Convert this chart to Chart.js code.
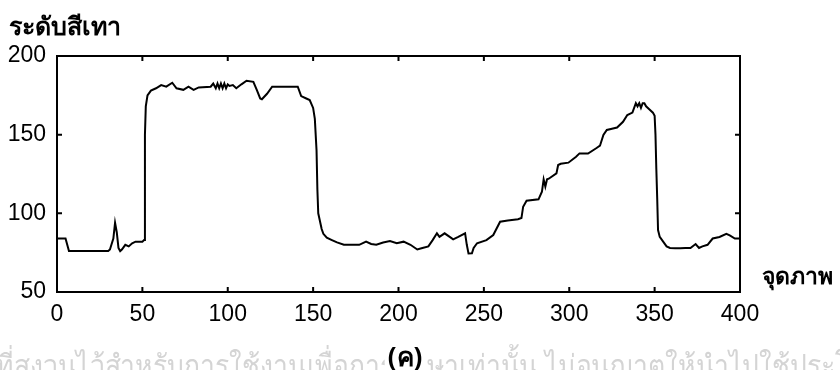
<!DOCTYPE html>
<html>
<head>
<meta charset="utf-8">
<script src="https://cdn.jsdelivr.net/npm/chart.js@4/dist/chart.umd.min.js"></script>
<style>
  html, body { margin: 0; padding: 0; background: #fff; }
  #wrap { width: 840px; height: 370px; position: relative; }
</style>
</head>
<body>
<div id="wrap"><canvas id="profile-chart"></canvas></div>
<script>
// gray level profile along one image row
const pixelIdx = [
    0, 5, 6, 7, 30, 31, 33, 34, 35, 36, 37, 38, 40, 42, 44, 46, 50, 51, 51.5, 52,
    53, 55, 58, 61, 64, 67.5, 70, 74, 77, 80, 83, 90, 91.5, 93, 94, 95, 96, 97, 98, 99,
    100, 101, 103, 105, 108, 111, 115, 117, 119, 120, 123, 126, 141, 143, 146, 148, 150, 151, 152, 152.5,
    153, 155, 156, 158, 161, 164, 168, 172, 177, 181, 184, 187, 191, 195, 199, 203, 207, 211, 214, 217.5,
    220, 222.5, 224, 227, 230, 232, 235, 239, 240, 241, 243, 244, 246, 251.5, 255.5, 259.5, 264, 270, 272, 273,
    275, 282, 284, 285, 286, 287, 288, 292.5, 293.5, 295, 299.5, 304, 306, 311, 316, 318, 320, 322, 325, 328,
    331.5, 334, 337, 339, 340, 341, 342, 343, 344, 345, 347, 349, 350, 350.5, 351,
    351.5, 352, 353, 355, 357, 359, 362, 365, 368, 371, 374, 376, 378, 381, 384, 388, 392, 394, 397, 400
];
const grayLevel = [
    84, 84, 80, 76, 76, 77, 84, 94, 88, 78, 76, 77, 80, 79, 81, 82, 82, 83, 150, 168,
    175, 178, 179.5, 181.5, 180.5, 183, 179.5, 178.5, 180.5, 178.5, 180, 180.5, 182.5, 179.5, 182.5, 179.5, 182.5, 179.5, 182.5, 179.5,
    182, 181, 181.5, 179.5, 182, 184.3, 183.6, 178.4, 173, 172.5, 176, 180.5, 180.5, 174.5, 173, 172, 167, 160, 140, 115,
    100, 90, 87, 84.5, 83, 81.5, 80, 80, 80, 82, 80.5, 80, 81.5, 82.4, 81, 82, 80, 77, 78, 79,
    83, 87.3, 85, 87.3, 85, 83.5, 85, 87.3, 80, 74.5, 74.6, 78, 81, 83, 86.2, 94.7, 95.5, 96.2, 97, 104.2,
    108, 108.9, 113.7, 121.6, 117, 121.6, 122, 125.4, 130.7, 131.5, 132.2, 136, 138.1, 138, 141.5, 143, 149.8, 153, 153.8, 154.5,
    158.2, 162.5, 164, 170, 168, 170, 167, 170, 170, 168, 166, 164, 162, 150, 128,
    110, 89.4, 85, 82, 79, 78, 77.8, 77.8, 78, 78, 80.5, 78, 79, 80, 84, 85, 87, 86, 84, 84
];
const xTicks = [0, 50, 100, 150, 200, 250, 300, 350, 400];
const yTicks = [50, 100, 150, 200];

const yTitle = 'ระดับสีเทา';
const xTitle = 'จุดภาพ';
const caption = '(ค)';
const watermark = 'ที่สงวนไว้สำหรับการใช้งานเพื่อการศึกษาเท่านั้น ไม่อนุญาตให้นำไปใช้ประโยชน์ในเชิงพาณิชย์';
const watermarkHead = 'ที่สงวนไว้สำหรับการใช้งานเพื่อการ';

const tickFont = { family: "'Liberation Sans', Arial, sans-serif", size: 23 };

// frame, inward ticks on all four sides, and the loose texts
const framePlugin = {
    id: 'frame',
    afterDraw(chart) {
        const ctx = chart.ctx;
        const a = chart.chartArea;
        const xs = chart.scales.x;
        const ys = chart.scales.y;
        const len = 5;
        ctx.save();
        ctx.strokeStyle = '#000';
        ctx.lineWidth = 2;
        ctx.strokeRect(a.left, a.top, a.right - a.left, a.bottom - a.top);
        ctx.beginPath();
        xTicks.forEach(v => {
            const px = xs.getPixelForValue(v);
            ctx.moveTo(px, a.bottom); ctx.lineTo(px, a.bottom - len);
            ctx.moveTo(px, a.top); ctx.lineTo(px, a.top + len);
        });
        yTicks.forEach(v => {
            const py = ys.getPixelForValue(v);
            ctx.moveTo(a.left, py); ctx.lineTo(a.left + len, py);
            ctx.moveTo(a.right, py); ctx.lineTo(a.right - len, py);
        });
        ctx.stroke();

        // faint watermark along the bottom edge, squeezed to the original width
        ctx.save();
        ctx.fillStyle = '#d4d4d4';
        ctx.font = "30px 'Noto Sans', sans-serif";
        ctx.textBaseline = 'alphabetic';
        ctx.textAlign = 'left';
        const sx = 398 / ctx.measureText(watermarkHead).width;
        ctx.translate(-4, 376);
        ctx.scale(sx, 1);
        ctx.fillText(watermark, 0, 0);
        ctx.restore();

        ctx.fillStyle = '#000';
        ctx.font = "bold 25px 'Noto Sans', sans-serif";
        ctx.textBaseline = 'alphabetic';
        ctx.fillText(yTitle, 9, 35);

        ctx.font = "bold 23px 'Noto Sans', sans-serif";
        ctx.textBaseline = 'middle';
        ctx.fillText(xTitle, 762, 277);

        ctx.font = "bold 26px 'Noto Sans', sans-serif";
        ctx.textAlign = 'center';
        const w = ctx.measureText(caption).width;
        ctx.fillStyle = '#fff';
        ctx.fillRect(405 - w / 2 - 3, 345, w + 6, 25);
        ctx.fillStyle = '#000';
        ctx.fillText(caption, 405, 359);
        ctx.restore();
    }
};

const ctx = document.getElementById('profile-chart');
new Chart(ctx, {
    type: 'line',
    data: {
        datasets: [{
            data: pixelIdx.map((x, i) => ({ x: x, y: grayLevel[i] })),
            borderColor: '#000',
            borderWidth: 2,
            pointRadius: 0,
            tension: 0,
            fill: false
        }]
    },
    options: {
        responsive: true,
        maintainAspectRatio: false,
        animation: false,
        layout: { padding: { left: 0, top: 56, right: 100, bottom: 0 } },
        plugins: {
            legend: { display: false },
            tooltip: { enabled: false }
        },
        scales: {
            x: {
                type: 'linear',
                min: 0,
                max: 400,
                afterFit: (s) => { s.height = 78; },
                afterBuildTicks: (s) => { s.ticks = xTicks.map(v => ({ value: v })); },
                grid: { display: false, drawTicks: false },
                border: { display: false },
                ticks: { color: '#000', font: tickFont, padding: 9, maxRotation: 0, autoSkip: false }
            },
            y: {
                min: 50,
                max: 200,
                afterFit: (s) => { s.width = 57; },
                afterBuildTicks: (s) => { s.ticks = yTicks.map(v => ({ value: v })); },
                grid: { display: false, drawTicks: false },
                border: { display: false },
                ticks: { color: '#000', font: tickFont, padding: 11 }
            }
        }
    },
    plugins: [framePlugin]
});
</script>
</body>
</html>
